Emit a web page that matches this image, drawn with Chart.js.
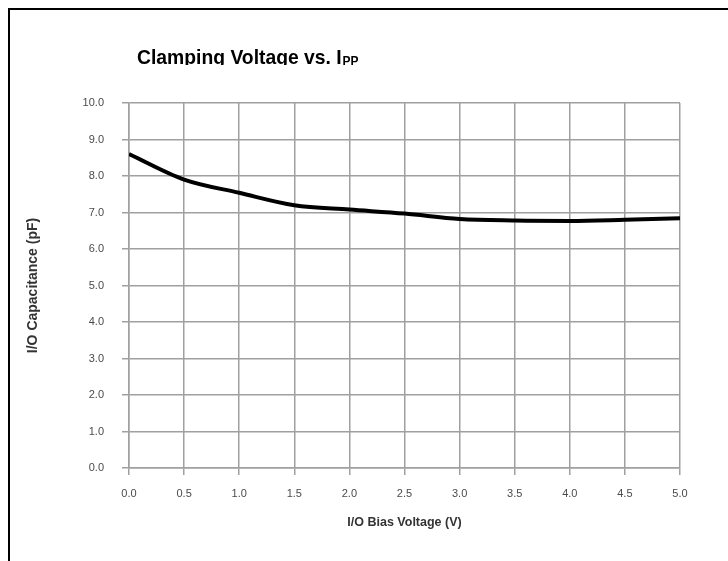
<!DOCTYPE html>
<html lang="en">

<head>
    <meta charset="UTF-8">
    <title>Clamping Voltage vs. IPP</title>
    <script src="https://cdn.jsdelivr.net/npm/chart.js"></script>
    <style>
        body { margin: 0; background: #fff; }
        canvas { display: block; }
    </style>
</head>

<body>
    <canvas id="capChart" width="728" height="561"></canvas>

    <script>
        // values
        const biasVoltage = [0.0, 0.5, 1.0, 1.5, 2.0, 2.5, 3.0, 3.5, 4.0, 4.5, 5.0];
        const capacitance = [8.6, 7.9, 7.54, 7.2, 7.08, 6.97, 6.82, 6.78, 6.77, 6.8, 6.84];
        const xTicks = [0.0, 0.5, 1.0, 1.5, 2.0, 2.5, 3.0, 3.5, 4.0, 4.5, 5.0];
        const yTicks = [0, 1, 2, 3, 4, 5, 6, 7, 8, 9, 10];

        const points = biasVoltage.map((v, i) => ({ x: v, y: capacitance[i] }));

        // frame and title (title has a subscript, so it is drawn by hand)
        const frameAndTitle = {
            id: 'frameAndTitle',
            afterDraw(chart) {
                const c = chart.ctx;
                c.save();
                c.strokeStyle = '#000';
                c.lineWidth = 2;
                c.beginPath();
                c.moveTo(9, 561);
                c.lineTo(9, 9);
                c.lineTo(728, 9);
                c.stroke();

                c.beginPath();
                c.rect(0, 0, 728, 65);
                c.clip();
                // the original title font is a bit narrower than Arial
                c.translate(137, 64);
                c.scale(0.92, 1);
                c.fillStyle = '#000';
                c.textBaseline = 'alphabetic';
                c.textAlign = 'left';
                c.font = 'bold 21px "Liberation Sans", Arial, sans-serif';
                const main = 'Clamping Voltage vs. I';
                c.fillText(main, 0, 0);
                const w = c.measureText(main).width;
                c.font = 'bold 13px "Liberation Sans", Arial, sans-serif';
                c.fillText('PP', w + 1, 1);
                c.restore();
            }
        };

        const gridColor = '#a0a0a0';

        new Chart(document.getElementById('capChart'), {
            type: 'line',
            data: {
                datasets: [{
                    data: points,
                    borderColor: '#000',
                    borderWidth: 4,
                    pointRadius: 0,
                    fill: false,
                    tension: 0.4,
                    cubicInterpolationMode: 'monotone'
                }]
            },
            options: {
                responsive: false,
                animation: false,
                layout: { padding: { left: 0, top: 103, right: 48, bottom: 0 } },
                plugins: { legend: { display: false }, tooltip: { enabled: false } },
                scales: {
                    x: {
                        type: 'linear',
                        min: 0,
                        max: 5,
                        afterBuildTicks(scale) { scale.ticks = xTicks.map(v => ({ value: v })); },
                        afterFit(scale) { scale.height = 561 - 468; },
                        ticks: {
                            color: '#4a4a4a',
                            font: { family: '"Liberation Sans", Arial, sans-serif', size: 11 },
                            padding: 12,
                            maxRotation: 0,
                            callback: v => v.toFixed(1)
                        },
                        grid: { color: gridColor, lineWidth: 1.5, tickLength: 7, tickColor: gridColor },
                        border: { color: gridColor, width: 1.5 },
                        title: {
                            display: true,
                            text: 'I/O Bias Voltage (V)',
                            color: '#333',
                            font: { family: '"Liberation Sans", Arial, sans-serif', size: 12.5, weight: 'bold' },
                            padding: { top: 0, bottom: 31 }
                        }
                    },
                    y: {
                        min: 0,
                        max: 10,
                        afterBuildTicks(scale) { scale.ticks = yTicks.map(v => ({ value: v })); },
                        afterFit(scale) { scale.width = 129; },
                        ticks: {
                            color: '#4a4a4a',
                            font: { family: '"Liberation Sans", Arial, sans-serif', size: 11 },
                            padding: 18,
                            callback: v => v.toFixed(1)
                        },
                        grid: { color: gridColor, lineWidth: 1.5, tickLength: 7, tickColor: gridColor },
                        border: { color: gridColor, width: 1.5 },
                        title: {
                            display: true,
                            text: 'I/O Capacitance (pF)',
                            color: '#333',
                            font: { family: '"Liberation Sans", Arial, sans-serif', size: 14, weight: 'bold' },
                            padding: { top: 25, bottom: 0 }
                        }
                    }
                }
            },
            plugins: [frameAndTitle]
        });
    </script>
</body>

</html>
